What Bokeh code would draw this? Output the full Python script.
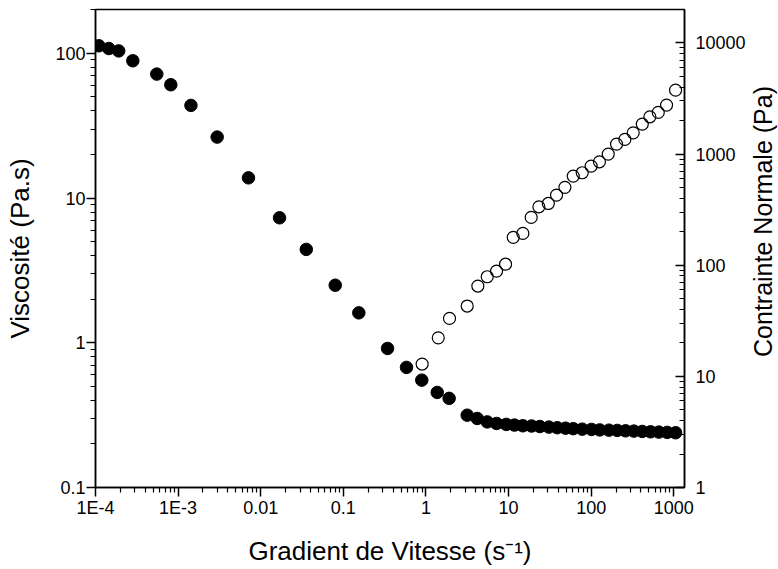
import math
from bokeh.plotting import figure
from bokeh.models import (LogAxis, Range1d, LogScale, FixedTicker, Label,
                          CustomJSTickFormatter, ColumnDataSource)
from bokeh.embed import file_html
from bokeh.resources import INLINE

# ---- data ----
visc_shear = [1.1e-4, 1.45e-4, 1.91e-4, 2.83e-4, 5.52e-4, 8.16e-4, 1.43e-3,
              2.97e-3, 7.11e-3, 0.0169, 0.0356, 0.0798, 0.154, 0.343, 0.582,
              0.891, 1.37, 1.91, 3.16, 4.18, 5.52, 7.16, 9.38, 11.8, 14.9,
              19.0, 23.9, 30.8, 38.9, 49.0, 60.7, 78.0, 101, 127, 164, 207,
              261, 329, 416, 524, 660, 834, 1052]
viscosity = [112.8, 108, 104, 88.9, 71.9, 60.7, 43.7, 26.4, 13.8, 7.31, 4.42,
             2.50, 1.61, 0.914, 0.676, 0.552, 0.454, 0.413, 0.316, 0.300,
             0.284, 0.277, 0.273, 0.270, 0.267, 0.266, 0.264, 0.2615, 0.259,
             0.257, 0.255, 0.253, 0.252, 0.250, 0.249, 0.248, 0.2465, 0.2453,
             0.244, 0.2426, 0.2415, 0.2404, 0.239]

normal_shear = [0.90, 1.41, 1.93, 3.16, 4.25, 5.52, 7.16, 9.2, 11.4, 14.9,
                18.8, 23.3, 30.3, 38.1, 48.1, 60.7, 78.0, 100, 126, 161, 203,
                256, 323, 416, 514, 649, 818, 1052]
normal_stress = [12.9, 22.2, 33.2, 42.9, 64.9, 78.7, 88.5, 102, 178, 193, 269,
                 335, 359, 427, 501, 633, 678, 778, 851, 998, 1227, 1353, 1551,
                 1857, 2161, 2366, 2753, 3755]

x_ticks = [1e-4, 1e-3, 1e-2, 1e-1, 1, 10, 100, 1000]
x_tick_labels = ["1E-4", "1E-3", "0.01", "0.1", "1", "10", "100", "1000"]
yl_ticks = [0.1, 1, 10, 100]
yl_tick_labels = ["0.1", "1", "10", "100"]
yr_ticks = [1, 10, 100, 1000, 10000]
yr_tick_labels = ["1", "10", "100", "1000", "10000"]

x_title = "Gradient de Vitesse (s\u207b\u00b9)"
yl_title = "Viscosité (Pa.s)"
yr_title = "Contrainte Normale (Pa)"

FONT = "Liberation Sans"
TICK_SIZE = "18px"
TITLE_SIZE = "26px"


def minor(lo, hi):
    return [m * 10.0 ** e for e in range(lo, hi) for m in range(2, 10)]


def fmt(tvals, tlabels):
    return CustomJSTickFormatter(
        args=dict(tv=tvals, tl=tlabels),
        code="""
        for (let i = 0; i < tv.length; i++) {
            if (Math.abs(Math.log10(tv[i]) - Math.log10(tick)) < 1e-6) return tl[i];
        }
        return "";
        """)


p = figure(width=778, height=569, x_axis_type="log", y_axis_type="log",
           x_range=Range1d(1e-4, 1349), y_range=Range1d(0.1, 201),
           output_backend="svg", toolbar_location=None, title=None,
           min_border_left=95, min_border_right=94, min_border_top=9,
           min_border_bottom=82)
p.xgrid.visible = False
p.ygrid.visible = False
p.outline_line_color = "black"
p.outline_line_width = 1.5
p.background_fill_color = "white"
p.border_fill_color = "white"

p.extra_y_ranges = {"normal": Range1d(1, 19950)}
p.extra_y_scales = {"normal": LogScale()}

visc_src = ColumnDataSource(dict(x=visc_shear, y=viscosity))
norm_src = ColumnDataSource(dict(x=normal_shear, y=normal_stress))

p.scatter("x", "y", source=visc_src, size=12.5, fill_color="black",
          line_color="black")
p.scatter("x", "y", source=norm_src, size=12, fill_alpha=0,
          line_color="black", line_width=1.2, y_range_name="normal")

# axes styling
xa = p.xaxis[0]
xa.ticker = FixedTicker(ticks=x_ticks, minor_ticks=minor(-4, 4))
xa.formatter = fmt(x_ticks, x_tick_labels)
xa.axis_label = x_title

ya = p.yaxis[0]
ya.ticker = FixedTicker(ticks=yl_ticks, minor_ticks=minor(-1, 3))
ya.formatter = fmt(yl_ticks, yl_tick_labels)
ya.axis_label = yl_title

ra = LogAxis(y_range_name="normal")
ra.ticker = FixedTicker(ticks=yr_ticks, minor_ticks=minor(0, 5))
ra.formatter = fmt(yr_ticks, yr_tick_labels)
p.add_layout(ra, "right")

for ax in (xa, ya, ra):
    ax.axis_line_width = 1.5
    ax.axis_line_color = "black"
    ax.major_tick_line_width = 1.5
    ax.minor_tick_line_width = 1.2
    ax.major_tick_line_color = "black"
    ax.minor_tick_line_color = "black"
    ax.major_label_text_font = FONT
    ax.major_label_text_font_size = TICK_SIZE
    ax.major_label_text_color = "black"
    ax.axis_label_text_font = FONT
    ax.axis_label_text_font_size = TITLE_SIZE
    ax.axis_label_text_font_style = "normal"
    ax.axis_label_text_color = "black"

for ax in (xa, ya):
    ax.major_tick_out = 9
    ax.major_tick_in = 0
    ax.minor_tick_out = 5
    ax.minor_tick_in = 0

ra.major_tick_out = 0
ra.major_tick_in = 9
ra.minor_tick_out = 0
ra.minor_tick_in = 5
ra.major_label_standoff = 11

xa.major_label_standoff = 1
xa.axis_label_standoff = 15
ya.major_label_standoff = 1
ya.axis_label_standoff = 17

# right-hand title, reading bottom-to-top like the reference,
# placed in the right side panel (outside the clipped frame)
p.add_layout(Label(text=yr_title, x=14, y=266, x_units="screen",
                   y_units="screen", angle=math.pi / 2, text_align="center",
                   text_baseline="middle", text_font=FONT,
                   text_font_size="25px", text_color="black"), "right")

open("out.html", "w").write(file_html(p, INLINE))
